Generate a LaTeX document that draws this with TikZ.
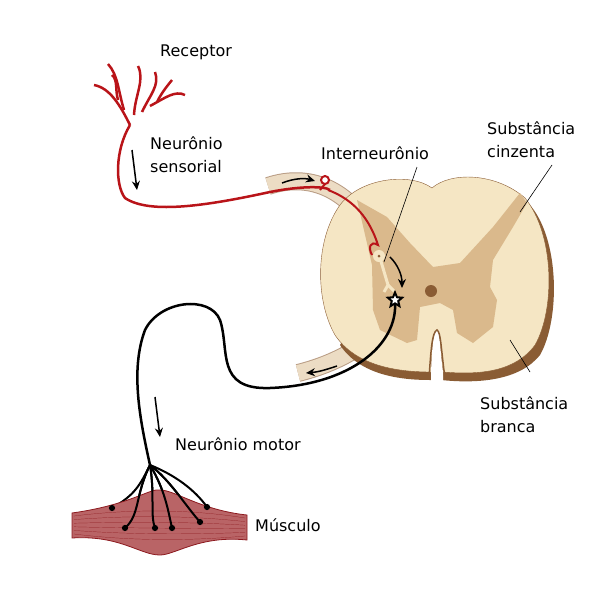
\documentclass[tikz,border=0pt]{standalone}
\usepackage{fontspec}
\setmainfont{DejaVu Sans}
\usetikzlibrary{positioning,shapes.geometric,arrows.meta}
\definecolor{cordwhite}{RGB}{245,230,196}
\definecolor{cordgrey}{RGB}{218,185,140}
\definecolor{cordedge}{RGB}{138,92,52}
\definecolor{rootfill}{RGB}{236,220,196}
\definecolor{nervered}{RGB}{185,20,25}
\definecolor{musclered}{RGB}{185,100,102}
\definecolor{muscleline}{RGB}{140,25,30}
\tikzset{lbl/.style={font=\fontsize{16}{23}\selectfont,align=left,inner sep=0pt}}
\tikzset{sens/.style={draw=nervered,line width=2.5pt}}
\tikzset{axon/.style={draw=black,line width=2.5pt}}
\tikzset{flow/.style={black,line width=1.5pt,-{Stealth[length=9pt,width=8pt]}}}
\tikzset{lead/.style={black,semithick}}
\tikzset{term/.style={circle,fill=black,inner sep=2.2pt}}
\begin{document}
\begin{tikzpicture}[x=1pt,y=-1pt]
\useasboundingbox (0,0) rectangle (600,600);
% roots
\foreach \p in {{(268,186) .. controls (310,172) and (345,190) .. (368,225)},
                {(298,373) .. controls (330,365) and (355,352) .. (375,335)}}
  {\draw[cordedge!60,line width=18pt] \p; \draw[rootfill,line width=16pt] \p;}
% spinal cord
\fill[cordedge] (436,196) .. controls (455,180) and (500,178) .. (530,205)
  .. controls (560,240) and (560,320) .. (540,355)
  .. controls (520,380) and (480,384) .. (441,380) -- (430,380)
  .. controls (400,380) and (360,375) .. (340,345) -- cycle;
\draw[cordedge,fill=cordwhite] (432,188) .. controls (450,172) and (495,172) .. (525,198)
  .. controls (555,235) and (555,310) .. (535,345)
  .. controls (515,372) and (480,375) .. (443,372)
  .. controls (440,350) and (440,332) .. (437,330)
  .. controls (433,332) and (432,350) .. (431,372)
  .. controls (395,372) and (355,365) .. (335,335)
  .. controls (315,300) and (315,240) .. (340,205)
  .. controls (360,178) and (410,172) .. (432,188) -- cycle;
\fill[white] (443,383) -- (443,372) .. controls (440,350) and (440,332) .. (437,330)
  .. controls (433,332) and (432,350) .. (431,372) -- (431,383) -- cycle;
\draw[cordedge,line width=1.5pt] (445,378) .. controls (441,350) and (441,332) .. (437,330)
  .. controls (432,332) and (431,350) .. (429,378);
\fill[cordgrey] (357,200) -- (387,217) -- (410,243) -- (433,267) -- (460,263)
  -- (493,227) -- (520,193) -- (527,203) -- (513,227) -- (493,260) -- (490,287)
  -- (497,300) -- (493,327) -- (473,343) -- (457,333) -- (453,310) -- (440,303)
  -- (420,307) -- (417,340) -- (407,343) -- (380,330) -- (373,310) -- (372,265) -- cycle;
\fill[cordedge] (431,291) circle (6);
% sensory neuron
\draw[sens] (130,125) .. controls (115,150) and (115,185) .. (125,198)
  .. controls (150,215) and (210,205) .. (270,192) .. controls (300,186) and (325,186) .. (330,190);
\draw[sens] (130,125) .. controls (120,105) and (110,88) .. (94,85);
\draw[sens] (118,100) .. controls (115,90) and (118,80) .. (112,75);
\draw[sens] (124,110) .. controls (118,90) and (118,75) .. (108,64);
\draw[sens] (134,115) .. controls (135,95) and (145,80) .. (138,66);
\draw[sens] (142,112) .. controls (150,95) and (160,85) .. (155,72);
\draw[sens] (150,106) .. controls (165,98) and (175,90) .. (185,95);
\draw[sens] (157,102) .. controls (162,92) and (168,85) .. (172,80);
\draw[nervered,line width=2pt] (320,190) -- (325,184);
\draw[nervered,line width=2pt,fill=white] (325,180) circle (4);
\draw[sens,line width=2pt] (328,190) .. controls (355,200) and (370,220) .. (378,245)
  .. controls (370,240) and (368,248) .. (372,255);
% interneuron
\draw[cordwhite,line width=3pt] (380,258) -- (388,285) -- (384,292);
\draw[cordwhite,line width=3pt] (388,285) -- (394,291);
\fill[cordwhite] (379,256) circle (6);
\fill[cordedge] (379,256) circle (1.5);
% motor neuron
\draw[axon] (395,302) .. controls (398,345) and (350,385) .. (270,388)
  .. controls (215,390) and (230,350) .. (220,320)
  .. controls (210,295) and (160,300) .. (145,330)
  .. controls (130,370) and (140,420) .. (150,465);
\node[star,star points=5,star point ratio=2.2,draw=black,fill=white,line width=2pt,minimum size=15pt,inner sep=0pt] (mn) at (395,300) {};
\draw[axon,line width=2pt] (150,465) .. controls (140,485) and (135,495) .. (112,508);
\draw[axon,line width=2pt] (150,465) .. controls (135,495) and (140,515) .. (125,528);
\draw[axon,line width=2pt] (150,465) .. controls (155,495) and (150,515) .. (155,528);
\draw[axon,line width=2pt] (150,465) .. controls (165,490) and (168,510) .. (172,528);
\draw[axon,line width=2pt] (150,465) .. controls (170,480) and (185,505) .. (200,522);
\draw[axon,line width=2pt] (150,465) .. controls (175,475) and (195,490) .. (207,507);
% muscle
\begin{scope}[on background layer/.style={}]
\end{scope}
\draw[muscleline,fill=musclered,thick] (72,513) .. controls (130,505) and (150,488) .. (160,490)
  .. controls (175,490) and (200,510) .. (247,515) -- (247,540)
  .. controls (200,535) and (175,555) .. (160,555)
  .. controls (140,555) and (120,535) .. (72,538) -- cycle;
\foreach \d in {-10,-6,...,10}
  \draw[muscleline,very thin] (74,525+\d*0.9) .. controls (130,525+\d*1.6) and (190,525+\d*1.6) .. (245,527+\d*0.9);
\draw[axon,line width=2pt] (150,465) .. controls (135,495) and (140,515) .. (125,528);
\draw[axon,line width=2pt] (150,465) .. controls (155,495) and (150,515) .. (155,528);
\draw[axon,line width=2pt] (150,465) .. controls (165,490) and (168,510) .. (172,528);
\draw[axon,line width=2pt] (150,465) .. controls (170,480) and (185,505) .. (200,522);
\foreach \p in {(112,508),(125,528),(155,528),(172,528),(200,522),(207,507)}
  \node[term] at \p {};
% flow arrows
\draw[flow] (132,150) -- (137,190);
\draw[flow] (155,397) -- (160,437);
\draw[flow] (282,183) .. controls (295,178) and (305,178) .. (315,181);
\draw[flow] (337,366) .. controls (325,370) and (318,372) .. (306,373);
\draw[flow] (390,257) .. controls (398,265) and (402,275) .. (402,288);
% labels
\node[lbl,anchor=west] (rec) at (160,52) {Receptor};
\node[lbl,anchor=west] (sen) at (150,155) {Neurônio\\sensorial};
\node[lbl,anchor=west] (int) at (321,153) {Interneurônio};
\node[lbl,anchor=west] (cin) at (487,140) {Substância\\cinzenta};
\node[lbl,anchor=west] (bra) at (480,415) {Substância\\branca};
\node[lbl,anchor=west] (mot) at (175,444) {Neurônio motor};
\node[lbl,anchor=west] (mus) at (255,525) {Músculo};
\draw[lead] (417,167) -- (384,262);
\draw[lead] (552,165) -- (520,212);
\draw[lead] (510,340) -- (530,372);
\end{tikzpicture}
\end{document}
